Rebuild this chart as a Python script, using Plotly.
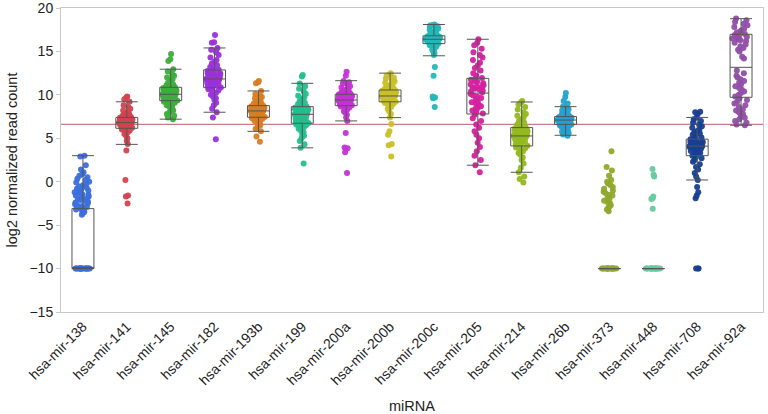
import plotly.graph_objects as go

categories = ["hsa-mir-138", "hsa-mir-141", "hsa-mir-145", "hsa-mir-182", "hsa-mir-193b",
              "hsa-mir-199", "hsa-mir-200a", "hsa-mir-200b", "hsa-mir-200c", "hsa-mir-205",
              "hsa-mir-214", "hsa-mir-26b", "hsa-mir-373", "hsa-mir-448", "hsa-mir-708",
              "hsa-mir-92a"]

colors = ["#3b6fdc", "#d2434f", "#3cae3c", "#9a30dc", "#d97d22", "#22bf8c", "#c531d4",
          "#c9c026", "#21b8bb", "#d3219f", "#93b91f", "#23a1cf", "#8fa82c", "#66c9a0",
          "#173f8f", "#914fa8"]

pts_mir138 = [-10, -10, -10, -10, -10, -10, -10, -10, -10, -10, -10, -10, -10, -10, -10, -10, -10, -10,
              -3.8, -3.6, -3.5, -3.4, -3.3, -3.2, -3.1, -3.0, -2.9, -2.8, -2.75, -2.6, -2.5, -2.4, -2.3,
              -2.2, -2.1, -2.0, -1.95, -1.8, -1.7, -1.6, -1.5, -1.45, -1.3, -1.2, -1.1, -1.0, -0.9, -0.8,
              -0.7, -0.55, -0.4, -0.3, -0.1, 0.0, 0.2, 0.35, 0.5, 0.7, 0.9, 1.1, 1.4, 1.9, 2.9, 3.0]
pts_mir141 = [-2.5, -1.7, -1.6, 0.2, 3.6, 4.35, 4.7, 5.0, 5.3, 5.5, 5.7, 5.8, 5.9, 6.0, 6.1, 6.2, 6.25,
              6.3, 6.35, 6.4, 6.45, 6.5, 6.55, 6.6, 6.6, 6.65, 6.7, 6.7, 6.75, 6.8, 6.8, 6.85, 6.9, 6.95,
              7.0, 7.0, 7.05, 7.1, 7.15, 7.2, 7.2, 7.25, 7.3, 7.35, 7.4, 7.45, 7.5, 7.6, 7.7, 7.8, 7.9,
              8.0, 8.2, 8.4, 8.6, 8.8, 9.2, 9.5, 9.7, 9.8]
pts_mir145 = [7.2, 7.4, 7.6, 7.8, 8.0, 8.2, 8.4, 8.5, 8.7, 8.8, 8.9, 9.0, 9.1, 9.2, 9.3, 9.35, 9.4, 9.45,
              9.5, 9.55, 9.6, 9.65, 9.7, 9.75, 9.8, 9.85, 9.9, 9.95, 10.0, 10.05, 10.1, 10.15, 10.2,
              10.25, 10.3, 10.35, 10.4, 10.45, 10.5, 10.55, 10.6, 10.65, 10.7, 10.8, 10.85, 10.9, 11.0,
              11.1, 11.2, 11.4, 11.6, 11.8, 12.0, 12.2, 12.4, 12.7, 12.95, 13.9, 14.1, 14.7]
pts_mir182 = [4.9, 7.4, 8.0, 8.4, 8.8, 9.1, 9.4, 9.6, 9.8, 10.0, 10.2, 10.4, 10.5, 10.65, 10.8, 10.85,
              10.9, 11.0, 11.05, 11.1, 11.2, 11.25, 11.3, 11.4, 11.45, 11.5, 11.6, 11.65, 11.7, 11.8,
              11.85, 11.9, 12.0, 12.05, 12.1, 12.2, 12.25, 12.3, 12.4, 12.45, 12.5, 12.6, 12.7, 12.75,
              12.85, 12.9, 13.0, 13.2, 13.4, 13.6, 13.8, 14.0, 14.3, 14.6, 14.9, 15.2, 15.4, 16.0,
              16.05, 16.9]
pts_mir193b = [4.6, 5.2, 5.8, 6.1, 6.3, 6.5, 6.6, 6.75, 6.9, 7.0, 7.1, 7.2, 7.25, 7.3, 7.4, 7.45, 7.5,
               7.55, 7.6, 7.65, 7.7, 7.75, 7.8, 7.85, 7.9, 7.95, 8.0, 8.05, 8.1, 8.15, 8.15, 8.2, 8.25,
               8.3, 8.35, 8.4, 8.45, 8.5, 8.5, 8.55, 8.6, 8.65, 8.7, 8.7, 8.75, 8.8, 8.9, 9.0, 9.1, 9.2,
               9.3, 9.45, 9.6, 9.75, 9.9, 10.1, 10.45, 11.35, 11.45, 11.6]
pts_mir199 = [2.1, 3.9, 4.3, 4.7, 5.0, 5.3, 5.5, 5.7, 5.9, 6.1, 6.25, 6.4, 6.5, 6.6, 6.7, 6.75, 6.85,
              6.9, 7.0, 7.05, 7.1, 7.2, 7.25, 7.3, 7.4, 7.45, 7.5, 7.6, 7.65, 7.75, 7.8, 7.85, 7.9, 8.0,
              8.05, 8.1, 8.15, 8.2, 8.3, 8.35, 8.4, 8.45, 8.5, 8.55, 8.6, 8.65, 8.8, 8.95, 9.1, 9.3, 9.5,
              9.7, 9.9, 10.1, 10.4, 10.7, 11.0, 11.3, 12.1, 12.3]
pts_mir200a = [1.0, 3.4, 3.85, 3.95, 5.6, 7.0, 7.4, 7.7, 7.95, 8.1, 8.3, 8.45, 8.55, 8.65, 8.75, 8.8,
               8.85, 8.9, 8.95, 9.0, 9.05, 9.1, 9.15, 9.2, 9.25, 9.3, 9.3, 9.35, 9.4, 9.4, 9.45, 9.5,
               9.55, 9.6, 9.65, 9.7, 9.75, 9.8, 9.85, 9.9, 9.9, 9.95, 10.0, 10.05, 10.05, 10.1, 10.2,
               10.3, 10.4, 10.5, 10.6, 10.7, 10.85, 11.0, 11.15, 11.3, 11.45, 11.6, 12.2, 12.65]
pts_mir200b = [2.9, 4.2, 4.35, 5.4, 5.8, 6.65, 7.4, 7.8, 8.1, 8.4, 8.6, 8.8, 8.95, 9.05, 9.15, 9.2,
               9.25, 9.3, 9.35, 9.4, 9.45, 9.5, 9.55, 9.6, 9.65, 9.7, 9.75, 9.8, 9.85, 9.85, 9.9, 9.95,
               10.0, 10.05, 10.1, 10.15, 10.2, 10.25, 10.3, 10.35, 10.4, 10.45, 10.5, 10.5, 10.55, 10.6,
               10.7, 10.8, 10.9, 11.0, 11.1, 11.25, 11.4, 11.55, 11.7, 11.85, 12.0, 12.2, 12.35, 12.5]
pts_mir200c = [8.6, 9.6, 9.7, 9.8, 12.2, 13.2, 14.6, 14.8, 15.0, 15.2, 15.35, 15.5, 15.6, 15.7, 15.85,
               15.9, 15.95, 16.0, 16.05, 16.1, 16.1, 16.15, 16.2, 16.2, 16.25, 16.3, 16.3, 16.35, 16.35,
               16.4, 16.4, 16.45, 16.45, 16.5, 16.5, 16.55, 16.55, 16.6, 16.6, 16.65, 16.65, 16.7, 16.7,
               16.75, 16.8, 16.8, 16.9, 17.0, 17.1, 17.2, 17.3, 17.4, 17.5, 17.6, 17.7, 17.8, 17.9, 18.0,
               18.05, 18.1]
pts_mir205 = [1.1, 1.9, 2.5, 3.0, 3.5, 4.0, 4.5, 5.0, 5.4, 5.8, 6.2, 6.6, 7.0, 7.3, 7.7, 7.85, 8.0, 8.2,
              8.4, 8.5, 8.7, 8.85, 9.0, 9.15, 9.3, 9.5, 9.65, 9.8, 9.95, 10.1, 10.3, 10.4, 10.5, 10.6,
              10.7, 10.8, 10.9, 11.0, 11.1, 11.2, 11.35, 11.5, 11.6, 11.75, 11.85, 11.95, 12.2, 12.5,
              12.8, 13.1, 13.4, 13.7, 14.0, 14.3, 14.6, 14.9, 15.3, 15.7, 16.0, 16.4]
pts_mir214 = [-0.1, 0.3, 0.6, 1.1, 1.6, 2.1, 2.5, 2.8, 3.1, 3.3, 3.5, 3.7, 3.85, 3.95, 4.1, 4.15, 4.25,
              4.35, 4.45, 4.5, 4.6, 4.7, 4.8, 4.85, 4.95, 5.0, 5.1, 5.15, 5.2, 5.25, 5.3, 5.35, 5.45,
              5.5, 5.55, 5.6, 5.7, 5.75, 5.8, 5.9, 5.95, 6.0, 6.1, 6.15, 6.2, 6.25, 6.4, 6.6, 6.8, 7.0,
              7.2, 7.4, 7.6, 7.8, 8.0, 8.3, 8.6, 8.9, 9.15, 9.3]
pts_mir26b = [5.3, 5.45, 5.6, 5.75, 5.85, 5.95, 6.05, 6.15, 6.2, 6.3, 6.35, 6.4, 6.45, 6.5, 6.55, 6.6,
              6.65, 6.7, 6.75, 6.8, 6.8, 6.85, 6.9, 6.9, 6.95, 7.0, 7.0, 7.05, 7.05, 7.1, 7.1, 7.15,
              7.15, 7.2, 7.2, 7.25, 7.3, 7.3, 7.35, 7.35, 7.4, 7.4, 7.45, 7.45, 7.5, 7.55, 7.6, 7.7,
              7.8, 7.9, 8.0, 8.1, 8.2, 8.35, 8.5, 8.65, 9.0, 9.3, 9.75, 10.2]
pts_mir373 = [-10, -10, -10, -10, -10, -10, -10, -10, -10, -10, -10, -10, -10, -10, -10, -10,
              -3.4, -3.2, -3.0, -2.85, -2.7, -2.5, -2.35, -2.2, -2.0, -1.85, -1.6, -1.5, -1.3, -1.15,
              -1.0, -0.8, -0.6, -0.4, -0.2, 0.0, 0.2, 0.7, 1.3, 1.7, 3.5]
pts_mir448 = [-10, -10, -10, -10, -10, -10, -10, -10, -10, -10, -10, -10, -10, -10, -10, -10,
              -3.1, -2.0, -1.9, -1.7, 0.6, 0.8, 1.45]
pts_mir708 = [-10, -10, -10, -1.9, -1.6, -1.2, -0.6, 0.2, 0.6, 1.0, 1.4, 1.7, 2.0, 2.3, 2.5, 2.7, 2.85,
              3.0, 3.1, 3.2, 3.3, 3.4, 3.5, 3.55, 3.6, 3.7, 3.8, 3.85, 3.9, 4.0, 4.05, 4.1, 4.15, 4.2,
              4.3, 4.35, 4.4, 4.5, 4.55, 4.6, 4.7, 4.75, 4.8, 4.9, 5.0, 5.1, 5.25, 5.4, 5.55, 5.7, 5.85,
              6.0, 6.2, 6.4, 6.6, 6.8, 7.0, 7.2, 7.4, 7.8, 8.0, 8.05]
pts_mir92a = [6.5, 6.6, 6.8, 7.0, 7.2, 7.35, 7.6, 7.8, 8.0, 8.2, 8.35, 8.6, 8.8, 9.0, 9.2, 9.4, 9.6,
              9.8, 10.0, 10.2, 10.4, 10.6, 10.8, 11.0, 11.2, 11.4, 11.6, 11.8, 12.0, 12.2, 12.5, 12.8,
              14.2, 14.4, 15.0, 15.2, 15.4, 15.6, 15.8, 16.0, 16.2, 16.3, 16.4, 16.5, 16.6, 16.7, 16.8,
              16.9, 17.0, 17.2, 17.4, 17.6, 17.8, 18.0, 18.2, 18.4, 18.6, 18.8]

point_lists = [pts_mir138, pts_mir141, pts_mir145, pts_mir182, pts_mir193b, pts_mir199, pts_mir200a,
               pts_mir200b, pts_mir200c, pts_mir205, pts_mir214, pts_mir26b, pts_mir373, pts_mir448,
               pts_mir708, pts_mir92a]

box_q1 = [-10, 6.15, 9.33, 10.83, 7.42, 6.73, 8.76, 9.2, 15.9, 7.8, 4.12, 6.6, -10, -10, 3.0, 9.72]
box_median = [-10, 6.8, 10.07, 11.83, 8.15, 7.76, 9.41, 9.87, 16.4, 10.2, 5.27, 7.1, -10, -10, 4.1, 13.17]
box_q3 = [-3.1, 7.4, 10.87, 12.87, 8.76, 8.64, 10.07, 10.56, 16.8, 11.9, 6.23, 7.5, -10, -10, 4.9, 16.97]
box_lowerfence = [-10, 4.3, 7.2, 8.0, 5.8, 3.9, 7.0, 7.38, 14.5, 1.9, 1.09, 5.35, -10, -10, 0.2, 6.5]
box_upperfence = [3.0, 9.2, 12.95, 15.4, 10.45, 11.33, 11.63, 12.5, 18.1, 16.4, 9.18, 8.64, -10, -10, 7.4, 18.77]

reference_level = 6.6

FONT = "Liberation Sans, Arial, sans-serif"

fig = go.Figure()
for cat, vals, col in zip(categories, point_lists, colors):
    fig.add_trace(go.Box(
        x=[cat] * len(vals), y=vals, boxpoints="all", jitter=0.8, pointpos=0,
        marker=dict(color=col, size=6, opacity=0.95),
        line=dict(width=0, color="rgba(0,0,0,0)"), fillcolor="rgba(0,0,0,0)",
        showlegend=False, hoveron="points"))

fig.add_trace(go.Box(
    x=categories, q1=box_q1, median=box_median, q3=box_q3,
    lowerfence=box_lowerfence, upperfence=box_upperfence,
    line=dict(color="#555555", width=1), fillcolor="rgba(0,0,0,0)",
    whiskerwidth=1, boxpoints=False, showlegend=False))

fig.add_shape(type="line", xref="paper", x0=0, x1=1, yref="y", y0=reference_level, y1=reference_level,
              line=dict(color="#c97b86", width=1.3), layer="below")

fig.update_layout(
    width=768, height=414,
    margin=dict(l=61, r=5, t=8, b=102),
    paper_bgcolor="white", plot_bgcolor="white",
    boxmode="overlay", boxgap=0.5, boxgroupgap=0,
    font=dict(family=FONT, size=14, color="#222222"),
    xaxis=dict(
        categoryorder="array", categoryarray=categories, automargin=False,
        tickangle=-45, tickfont=dict(size=14, color="#222222"),
        showline=True, linecolor="#c8c8c8", linewidth=1, mirror=True,
        showgrid=False, ticks="", zeroline=False,
        title=dict(text="miRNA", font=dict(size=14.5), standoff=14)),
    yaxis=dict(
        range=[-15, 20], dtick=5, tickfont=dict(size=14, color="#222222"), automargin=False,
        ticklabeloverflow="allow",
        showline=True, linecolor="#c8c8c8", linewidth=1, mirror=True,
        showgrid=False, zeroline=False, ticks="outside", ticklen=4, tickcolor="#c8c8c8",
        title=dict(text="log2 normalized read count", font=dict(size=14.5), standoff=8)),
)

fig.write_html("out.html", config={"displayModeBar": False},
               post_script="document.body.style.margin='0';document.body.style.padding='0';")
